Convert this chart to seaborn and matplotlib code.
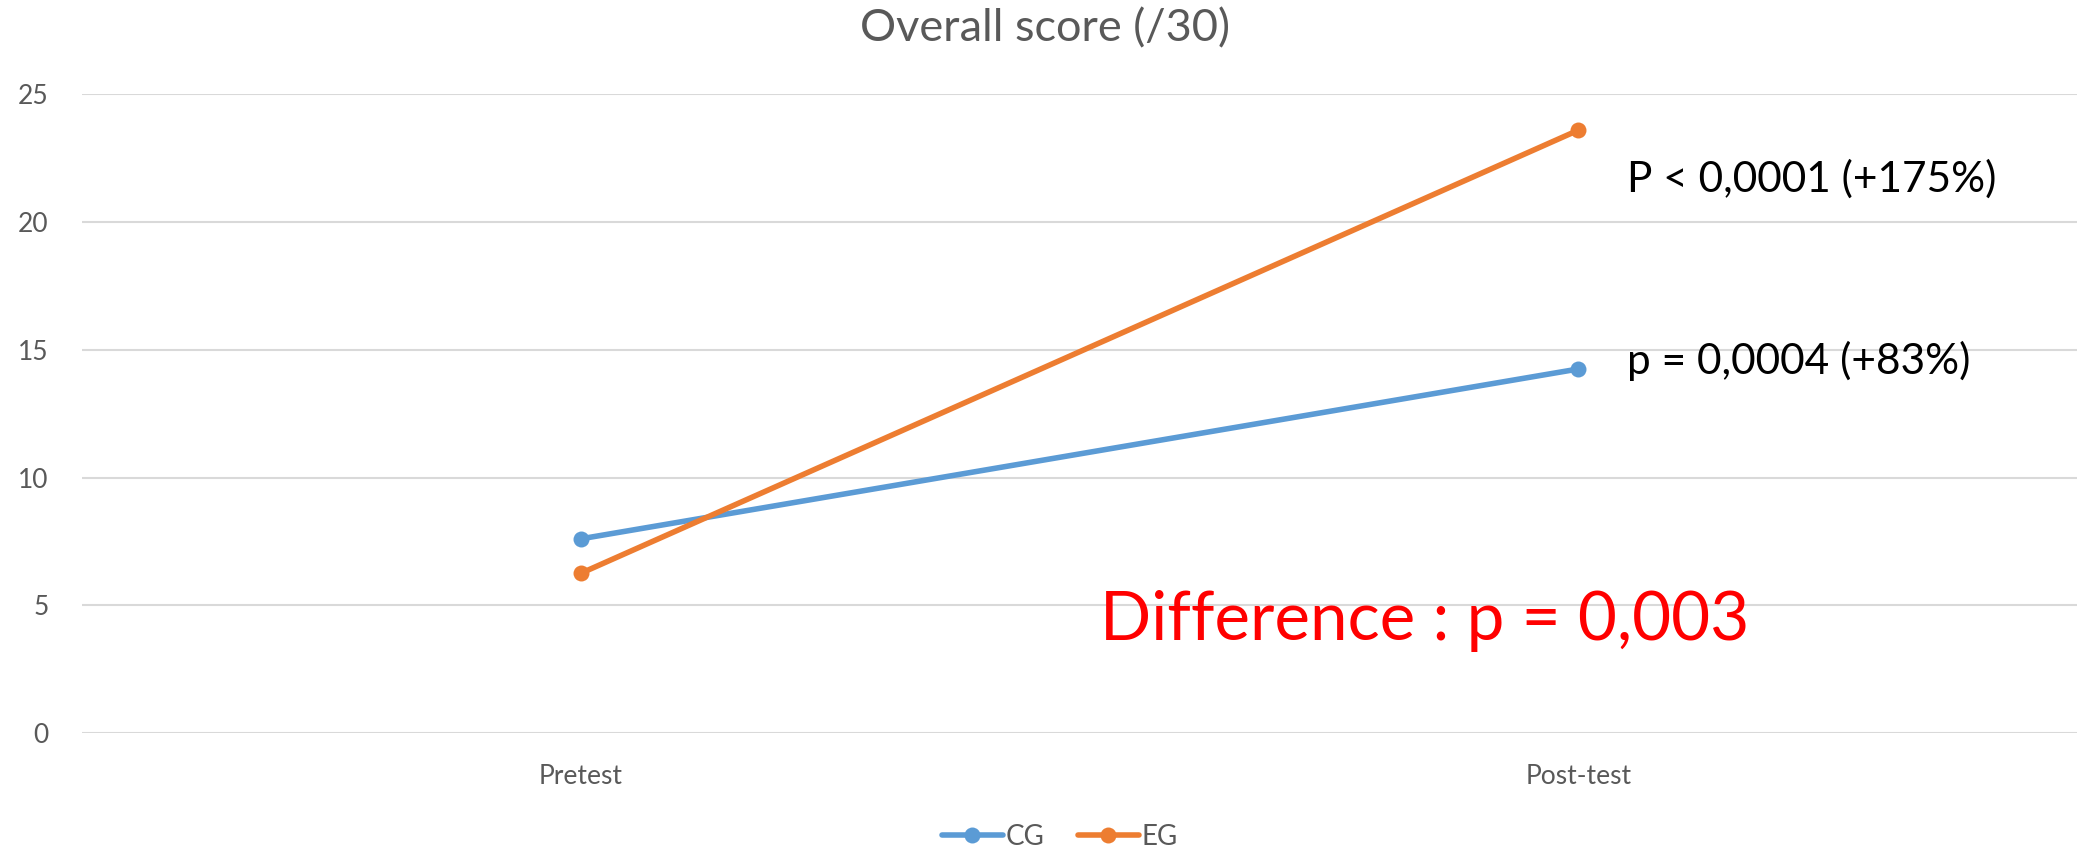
import pandas as pd
import matplotlib.pyplot as plt
import seaborn as sns

# values
phases = ['Pretest', 'Post-test']
groups = ['CG', 'EG']
cg_scores = [7.6, 14.25]
eg_scores = [6.25, 23.6]
group_colors = ['#5B9BD5', '#ED7D31']

df = pd.DataFrame({
    'phase': phases * 2,
    'group': ['CG'] * len(phases) + ['EG'] * len(phases),
    'score': cg_scores + eg_scores,
})

sns.set_style('white')
plt.rcParams['font.family'] = ['Lato', 'DejaVu Sans']

fig = plt.figure(figsize=(20.9, 8.51), dpi=100)
ax = fig.add_axes([0.0392, 0.1387, 0.9546, 0.7503])

sns.lineplot(data=df, x='phase', y='score', hue='group', hue_order=groups,
             palette=group_colors, marker='o', markersize=11.5, markeredgewidth=0,
             linewidth=4.0, sort=False, ax=ax, legend=True)

ax.set_xlim(-0.5, 1.5)
ax.set_ylim(0, 25)
ax.set_yticks([0, 5, 10, 15, 20, 25])
ax.grid(axis='y', color='#D9D9D9', linewidth=1.5)
ax.set_axisbelow(True)
for s in ax.spines.values():
    s.set_visible(False)
ax.tick_params(axis='both', length=0, labelsize=19, colors='#595959')
ax.tick_params(axis='y', pad=24)
ax.tick_params(axis='x', pad=22)
ax.set_xlabel('')
ax.set_ylabel('')

fig.text(0.5, 0.966, 'Overall score (/30)', ha='center', va='center',
         fontsize=32.5, color='#595959')

# p-value annotations
ax.text(1.049, 21.7, 'P < 0,0001 (+175%)', fontsize=30.5, color='black', va='center')
ax.text(1.049, 14.55, 'p = 0,0004 (+83%)', fontsize=30.5, color='black', va='center')
ax.text(0.521, 4.4, 'Difference : p = 0,003', fontsize=48.5, color='#FF0000', va='center')

handles, labels = ax.get_legend_handles_labels()
ax.legend_.remove()
fig.legend(handles, labels, loc='center', bbox_to_anchor=(0.507, 0.0165), ncol=2,
           frameon=False, fontsize=20, labelcolor='#595959', handlelength=2.2,
           handletextpad=0.1, columnspacing=1.2)

fig.savefig('out.png', dpi=100)
